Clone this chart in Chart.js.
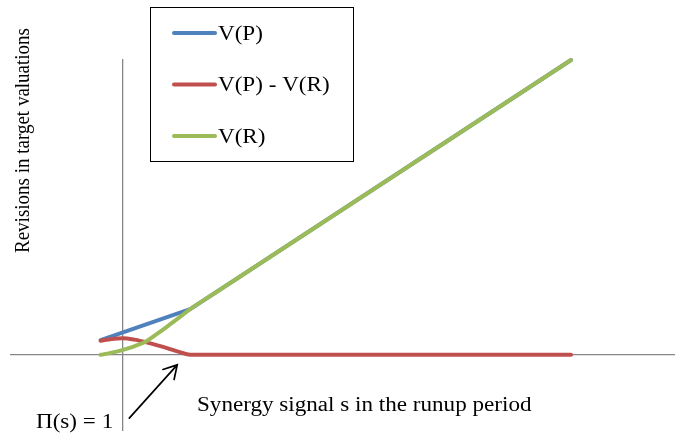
<!DOCTYPE html>
<html>
<head>
<meta charset="utf-8">
<script src="https://cdn.jsdelivr.net/npm/chart.js@4.4.1/dist/chart.umd.min.js"></script>
<style>
  html, body { margin: 0; padding: 0; background: #ffffff; }
  #wrap { width: 675px; height: 438px; position: relative; }
</style>
</head>
<body>
<div id="wrap"><canvas id="c" width="675" height="438"></canvas></div>
<script>
// ---- data ----
const seriesNames = ['V(P)', 'V(P) - V(R)', 'V(R)'];
const vpS   = [-1, 3, 20];
const vpV   = [1.0, 3.1, 20];
const diffS = [-1, -0.5, 0, 0.5, 1, 1.5, 2, 2.5, 3, 20];
const diffV = [0.96, 1.08, 1.12, 1.03, 0.86, 0.66, 0.44, 0.2, 0, 0];
const vrS   = [-1, -0.5, 0, 0.5, 1, 1.5, 2, 2.5, 3, 4, 20];
const vrV   = [0, 0.15, 0.34, 0.58, 0.88, 1.4, 1.95, 2.52, 3.1, 4.09, 20];
const arrowFrom = [0.28, -4.29];
const arrowTo   = [2.42, -0.68];
const xTitle = 'Synergy signal s in the runup period';
const yTitle = 'Revisions in target valuations';
const noteText = '\u03A0(s) = 1';

const colors = ['#4F81BD', '#C0504D', '#9BBB59'];
const toPts = (xs, ys) => xs.map((x, i) => ({ x: x, y: ys[i] }));

const FONT = '20px "Liberation Serif", "Times New Roman", serif';
const SX = 1.155;

function stretchedText(ctx, text, x, y, sx) {
  ctx.save();
  ctx.translate(x, y);
  ctx.scale(sx, 1);
  ctx.fillText(text, 0, 0);
  ctx.restore();
}

const decorPlugin = {
  id: 'decor',
  afterDatasetsDraw(chart) {
    const ctx = chart.ctx;
    const xs = chart.scales.x, ys = chart.scales.y;
    const x1 = xs.getPixelForValue(arrowFrom[0]), y1 = ys.getPixelForValue(arrowFrom[1]);
    const x2 = xs.getPixelForValue(arrowTo[0]),   y2 = ys.getPixelForValue(arrowTo[1]);
    ctx.save();
    ctx.strokeStyle = '#000000';
    ctx.lineWidth = 1.7;
    ctx.lineCap = 'round';
    ctx.beginPath();
    ctx.moveTo(x1, y1);
    ctx.lineTo(x2, y2);
    const ang = Math.atan2(y1 - y2, x1 - x2);
    const L = 15, a = Math.PI / 6;
    ctx.moveTo(x2 + L * Math.cos(ang + a), y2 + L * Math.sin(ang + a));
    ctx.lineTo(x2, y2);
    ctx.lineTo(x2 + L * Math.cos(ang - a), y2 + L * Math.sin(ang - a));
    ctx.stroke();
    ctx.restore();
  },
  afterDraw(chart) {
    const ctx = chart.ctx;
    ctx.save();
    ctx.fillStyle = '#000000';
    ctx.font = FONT;
    ctx.textAlign = 'left';
    ctx.textBaseline = 'alphabetic';
    stretchedText(ctx, xTitle, 197, 411, SX);
    stretchedText(ctx, noteText, 36, 428, SX);
    ctx.save();
    ctx.translate(28.5, 253);
    ctx.rotate(-Math.PI / 2);
    ctx.font = '19px "Liberation Serif", "Times New Roman", serif';
    ctx.scale(1, SX);
    ctx.fillText(yTitle, 0, 0);
    ctx.restore();
    ctx.strokeStyle = '#000000';
    ctx.lineWidth = 1;
    ctx.strokeRect(150.5, 7.5, 203, 154);
    const ds = chart.data.datasets;
    for (let i = 0; i < ds.length; i++) {
      const ly = 33 + i * 51.5;
      ctx.strokeStyle = ds[i].borderColor;
      ctx.lineWidth = 4;
      ctx.lineCap = 'round';
      ctx.beginPath();
      ctx.moveTo(174, ly);
      ctx.lineTo(215, ly);
      ctx.stroke();
      ctx.fillStyle = '#000000';
      stretchedText(ctx, ds[i].label, 218, ly + 6.6, SX);
    }
    ctx.restore();
  }
};

const common = {
  fill: false,
  pointRadius: 0,
  pointHoverRadius: 0,
  borderWidth: 4,
  borderCapStyle: 'round',
  borderJoinStyle: 'round',
  clip: 6
};

new Chart(document.getElementById('c'), {
  type: 'line',
  data: {
    datasets: [
      Object.assign({ label: seriesNames[0], data: toPts(vpS, vpV), borderColor: colors[0], backgroundColor: colors[0], tension: 0, order: 2 }, common),
      Object.assign({ label: seriesNames[1], data: toPts(diffS, diffV), borderColor: colors[1], backgroundColor: colors[1], cubicInterpolationMode: 'monotone', order: 1 }, common),
      Object.assign({ label: seriesNames[2], data: toPts(vrS, vrV), borderColor: colors[2], backgroundColor: colors[2], cubicInterpolationMode: 'monotone', order: 0 }, common)
    ]
  },
  options: {
    responsive: false,
    animation: false,
    events: [],
    layout: { padding: { left: 11, top: 60, right: 0, bottom: 8 } },
    plugins: { legend: { display: false }, tooltip: { enabled: false }, title: { display: false } },
    scales: {
      x: {
        type: 'linear',
        min: -5, max: 24.64,
        position: { y: 0 },
        grid: { display: false },
        ticks: { display: false },
        border: { display: true, color: '#868686', width: 1.3 }
      },
      y: {
        type: 'linear',
        min: -5.1, max: 20,
        position: { x: 0 },
        grid: { display: false },
        ticks: { display: false },
        border: { display: true, color: '#868686', width: 1.3 }
      }
    }
  },
  plugins: [decorPlugin]
});
</script>
</body>
</html>
